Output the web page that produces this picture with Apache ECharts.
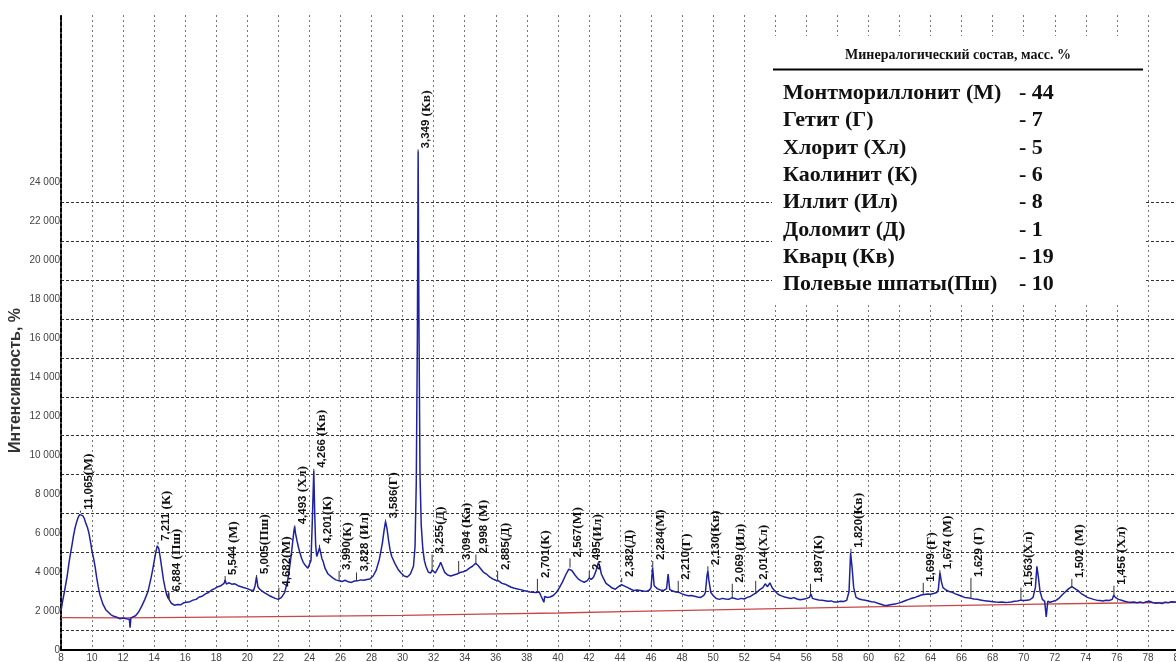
<!DOCTYPE html>
<html><head><meta charset="utf-8">
<script src="https://cdn.jsdelivr.net/npm/echarts@6/dist/echarts.min.js"></script>
<style>html,body{margin:0;padding:0;background:#fff}#c{width:1176px;height:662px}</style>
</head><body><div id="c"></div>
<script>
// ---- data ----
const twoTheta = [
 8.0,8.1,8.2,8.3,8.4,8.5,8.6,8.7,8.8,8.9,9.0,9.1,9.2,9.25,9.3,9.4,9.5,9.6,9.7,9.8,9.9,10.0,10.1,10.2,10.3,10.4,10.5,10.6,10.7,10.8,10.9,11.0,11.2,11.4,11.6,11.8,12.0,12.2,12.3,12.4,12.45,12.5,12.6,12.8,13.0,13.2,13.4,13.6,13.8,13.9,14.0,14.1,14.2,14.25,14.3,14.4,14.5,14.6,14.7,14.8,14.9,14.93,14.96,15.1,15.3,15.5,15.7,15.9,16.1,16.3,16.5,16.7,16.9,17.1,17.3,17.5,17.7,17.9,18.1,18.3,18.5,18.57,18.65,18.8,19.0,19.2,19.4,19.6,19.8,20.0,20.2,20.4,20.5,20.59,20.68,20.8,21.0,21.2,21.4,21.6,21.8,22.0,22.03,22.1,22.2,22.3,22.4,22.5,22.6,22.7,22.8,22.9,23.0,23.05,23.1,23.2,23.3,23.4,23.5,23.6,23.7,23.8,23.9,24.0,24.1,24.18,24.28,24.34,24.4,24.47,24.55,24.65,24.72,24.8,24.9,25.0,25.1,25.2,25.3,25.5,25.7,25.9,26.1,26.3,26.5,26.7,26.9,27.1,27.3,27.5,27.7,27.9,28.1,28.3,28.5,28.7,28.8,28.9,29.0,29.1,29.2,29.3,29.5,29.7,29.9,30.1,30.3,30.5,30.7,30.8,30.88,30.95,31.0,31.05,31.12,31.2,31.3,31.4,31.5,31.65,31.8,31.9,32.0,32.1,32.2,32.35,32.45,32.55,32.7,32.9,33.1,33.3,33.5,33.7,33.9,34.1,34.3,34.5,34.7,34.85,35.0,35.2,35.4,35.6,35.8,36.0,36.2,36.4,36.6,36.8,37.0,37.2,37.4,37.6,37.8,38.0,38.2,38.4,38.6,38.8,38.9,39.0,39.1,39.15,39.3,39.5,39.7,39.9,40.1,40.3,40.5,40.7,40.8,40.9,41.1,41.3,41.5,41.7,41.9,42.02,42.15,42.3,42.45,42.6,42.7,42.8,42.95,43.1,43.3,43.5,43.7,43.9,44.1,44.2,44.3,44.5,44.7,44.9,45.1,45.3,45.5,45.7,45.9,46.0,46.1,46.2,46.4,46.6,46.8,47.0,47.1,47.2,47.4,47.6,47.8,48.0,48.2,48.4,48.6,48.8,49.0,49.2,49.4,49.5,49.6,49.66,49.72,49.85,50.0,50.2,50.4,50.6,50.8,51.0,51.2,51.4,51.6,51.8,52.0,52.2,52.4,52.6,52.8,53.0,53.2,53.35,53.5,53.65,53.8,54.0,54.2,54.4,54.6,54.8,55.0,55.2,55.4,55.6,55.8,56.0,56.2,56.3,56.4,56.6,56.8,57.0,57.2,57.4,57.6,57.8,58.0,58.2,58.4,58.6,58.75,58.85,58.95,59.05,59.2,59.4,59.6,59.8,60.0,60.2,60.4,60.6,60.8,61.0,61.2,61.4,61.6,61.8,62.0,62.2,62.4,62.6,62.8,63.0,63.2,63.4,63.6,63.8,64.0,64.2,64.4,64.5,64.6,64.7,64.8,65.0,65.2,65.4,65.6,65.8,66.0,66.2,66.4,66.6,66.8,67.0,67.2,67.4,67.6,67.8,68.0,68.2,68.4,68.6,68.8,69.0,69.2,69.4,69.6,69.8,70.0,70.2,70.4,70.6,70.75,70.85,70.95,71.05,71.2,71.35,71.45,71.55,71.7,71.9,72.1,72.3,72.5,72.7,72.9,73.1,73.3,73.5,73.7,73.9,74.1,74.3,74.5,74.7,74.9,75.1,75.3,75.5,75.7,75.8,75.9,76.1,76.3,76.5,76.7,76.9,77.1,77.3,77.5,77.7,77.9,78.1,78.3,78.5,78.7,78.9,79.1,79.3,79.5,79.8
];
const intensity = [
 2000,2500,2900,3350,3800,4400,4900,5350,5850,6250,6550,6800,6950,7050,6900,6900,6750,6500,6300,6000,5550,5050,4700,4250,3700,3250,2850,2600,2350,2200,2050,1980,1820,1730,1680,1600,1640,1600,1660,1580,1150,1650,1700,1760,1950,2250,2600,3000,3700,4100,4550,5000,5350,5420,5200,4700,4150,3600,3200,2850,2650,2950,2600,2400,2300,2340,2320,2420,2450,2480,2560,2600,2720,2760,2880,2950,3080,3150,3250,3300,3420,3600,3380,3450,3380,3400,3300,3250,3200,3150,3080,3050,3300,3750,3250,3120,3000,2900,2800,2720,2650,2600,2700,2620,2700,2800,2950,3250,3600,4100,4700,5400,6100,6350,6000,5600,5250,4950,4700,4500,4380,4300,4200,4300,4600,6500,9220,7000,5400,4800,4900,5250,5000,4700,4500,4200,4050,3900,3800,3700,3600,3550,3520,3580,3500,3470,3540,3550,3600,3580,3620,3650,3800,4100,4650,5500,6100,6600,6200,5600,5100,4800,4450,4150,3950,3800,3750,3900,4300,5300,8600,16000,25600,17000,9000,6400,5200,4600,4300,4000,3950,4100,4000,3950,4050,4300,4500,4400,4000,3850,3800,3850,3900,3980,4020,4080,4200,4300,4450,4350,4200,4000,3900,3750,3650,3580,3540,3420,3380,3300,3220,3170,3130,3100,3050,3020,2980,2960,2950,2980,2800,2750,2450,2750,2700,2720,2800,2950,3200,3500,3850,4150,4230,4080,3850,3650,3550,3480,3560,3700,3620,3750,4050,4480,4300,3900,3650,3420,3300,3180,3120,3250,3350,3450,3280,3200,3120,3050,3080,3060,3030,3010,3080,3200,4230,3300,3150,3080,3050,3150,3900,3100,3030,2980,2960,2880,2820,2790,2800,2760,2720,2700,2800,2950,3800,4060,3600,2950,2800,2640,2600,2650,2620,2600,2680,2640,2600,2650,2620,2700,2750,2850,2950,3100,3200,3400,3250,3450,3200,3000,2850,2780,2720,2680,2640,2690,2620,2580,2610,2640,2700,2880,2650,2600,2570,2560,2530,2500,2520,2460,2470,2500,2490,2550,3000,4990,4200,3200,2700,2620,2580,2550,2520,2480,2460,2400,2350,2300,2280,2320,2350,2380,2420,2480,2540,2600,2660,2700,2760,2820,2850,2880,2860,2900,2950,3100,3980,3500,3200,3080,3000,2960,2880,2820,2760,2700,2680,2650,2620,2600,2570,2540,2520,2500,2480,2460,2450,2470,2440,2450,2470,2500,2520,2560,2540,2560,2580,2700,3200,4300,3700,3000,2600,2500,1700,2500,2450,2500,2560,2680,2850,3000,3150,3250,3150,3050,2900,2800,2700,2650,2600,2560,2540,2520,2550,2540,2600,2820,2700,2600,2550,2500,2470,2450,2460,2430,2460,2420,2480,2500,2440,2400,2420,2380,2450,2420,2480,2460
];
const baseX = [8,12,16,20,25,30,35,40,45,50,55,60,65,70,75,80];
const baseY = [1660,1650,1670,1700,1740,1780,1840,1900,1980,2060,2140,2210,2280,2340,2400,2450];

const peakX    = [9.25,14.25,14.93,18.57,20.59,22.03,23.05,24.28,24.65,25.91,27.03,28.9,31.0,31.9,33.61,34.72,36.12,38.68,40.78,42.02,44.11,46.11,47.75,49.66,51.23,52.74,56.27,58.87,63.53,64.6,66.6,69.82,73.1,75.81];
const peakBase = [7050,5420,2600,3450,3700,2620,6350,9220,5200,3550,3550,6600,25600,4060,3980,4400,3550,2960,4230,3640,3470,4230,2960,4060,2710,2900,2880,4990,2880,3980,2620,2540,3210,2790];
const peakTop  = [7150,5550,2950,3800,3850,3200,6400,9300,5400,4060,3980,6700,25700,4900,4570,4900,4060,3650,4700,4060,3700,4570,3550,4300,3400,3550,3400,5200,3450,4100,3700,3200,3650,3300];
const peakText = ['11,065(М)','7,211 (К)','6,884 (Пш)','5,544 (М)','5,005(Пш)','4,682(М)','4,493 (Хл)','4,266 (Кв)','4,201(К)','3,990(К)','3,828 (Ил)','3,586(Г)','3,349 (Кв)','3,255(Д)','3,094 (Ка)','2,998 (М)','2,885(Д)','2,701(К)','2,567(М)','2,495(Ил)','2,382(Д)','2,284(М)','2,210(Г)','2,130(Кв)','2,069 (Ил)','2,014(Хл)','1,897(К)','1,820(Кв)','1,699 (Г)','1,674 (М)','1,629 (Г)','1,563(Хл)','1,502 (М)','1,456 (Хл)'];

const yTickValues = [0,2000,4000,6000,8000,10000,12000,14000,16000,18000,20000,22000,24000];
const yTickLabels = ['0','2 000','4 000','6 000','8 000','10 000','12 000','14 000','16 000','18 000','20 000','22 000','24 000'];

const tableTitle = 'Минералогический состав, масс. %';
const mineralNames  = ['Монтмориллонит (М)','Гетит (Г)','Хлорит (Хл)','Каолинит (К)','Иллит (Ил)','Доломит (Д)','Кварц (Кв)','Полевые шпаты(Пш)'];
const mineralValues = ['- 44','- 7','- 5','- 6','- 8','- 1','- 19','- 10'];

// ---- chart ----
const chart = echarts.init(document.getElementById('c'));
const splitColors = [];
for (let i = 0; i < 34; i++) splitColors.push((i % 2 === 1 && i <= 23) ? '#333' : 'rgba(0,0,0,0)');

const graphic = [
  {type:'rect', shape:{x:772,y:36,width:374,height:266}, style:{fill:'#fff'}, z:100},
  {type:'text', x:958, y:55, style:{text:tableTitle, font:'bold 14px "Liberation Serif", serif', fill:'#111', align:'center', verticalAlign:'middle'}, z:101},
  {type:'line', shape:{x1:773,y1:69.5,x2:1143,y2:69.5}, style:{stroke:'#000', lineWidth:2}, z:101}
];
mineralNames.forEach((n,i)=>{
  const y = 93.5 + i*27.3;
  graphic.push({type:'text', x:783, y:y, style:{text:n, font:'bold 22px "Liberation Serif", serif', fill:'#111', align:'left', verticalAlign:'middle'}, z:101});
  graphic.push({type:'text', x:1019, y:y, style:{text:mineralValues[i], font:'bold 22px "Liberation Serif", serif', fill:'#111', align:'left', verticalAlign:'middle'}, z:101});
});

function richText(t){
  const k = t.indexOf('(');
  return '{a|' + t.slice(0,k) + '}{b|' + t.slice(k) + '}';
}

chart.setOption({
  animation:false,
  backgroundColor:'#fff',
  grid:{left:61,right:-3,top:15,bottom:12,containLabel:false,outerBoundsMode:'none'},
  xAxis:{type:'value',min:8,max:80,interval:2,
    axisLine:{show:true,lineStyle:{color:'#000',width:2}},
    axisTick:{show:false},
    axisLabel:{fontSize:10,color:'#444',margin:3,fontFamily:'Liberation Sans'},
    splitLine:{show:true,lineStyle:{color:'#777',type:[2,3],width:1}}},
  yAxis:{type:'value',min:0,max:32600,interval:1000,
    name:'Интенсивность, %',nameLocation:'middle',nameGap:37,nameMoveOverlap:false,
    nameTextStyle:{fontSize:16,fontWeight:'bold',color:'#333',fontFamily:'Liberation Sans',padding:[0,96,0,0]},
    axisLine:{show:true,lineStyle:{color:'#000',width:2,type:[4,2]}},
    axisTick:{show:false},
    axisLabel:{interval:0,fontSize:10,color:'#444',margin:1,fontFamily:'Liberation Sans',
      formatter:function(v){const k=yTickValues.indexOf(v);return k>=0?yTickLabels[k]:'';}},
    splitLine:{show:true,lineStyle:{color:splitColors,type:[3,2],width:1.2}}},
  series:[
    {type:'line',data:baseX.map((x,i)=>[x,baseY[i]]),symbol:'none',silent:true,
      lineStyle:{color:'#c84848',width:1.3},z:2},
    {type:'line',data:twoTheta.map((x,i)=>[x,intensity[i]]),symbol:'none',silent:true,
      lineStyle:{color:'#1e22a0',width:1.5},z:3},
    {type:'custom',silent:true,z:4,
      data:peakX.map((x,i)=>[x,peakBase[i],peakTop[i]]),
      renderItem:function(params,api){
        const x=api.value(0), b=api.value(1), t=api.value(2);
        const p0=api.coord([x,b]), p1=api.coord([x,t]);
        return {type:'group',children:[
          {type:'line',shape:{x1:p0[0],y1:p0[1],x2:p1[0],y2:p1[1]},style:{stroke:'#333',lineWidth:1}},
          {type:'text',x:p1[0]+1,y:p1[1]-1,rotation:Math.PI/2,
            style:{text:richText(peakText[params.dataIndex]),align:'left',verticalAlign:'top',fill:'#111',
              rich:{a:{font:'bold 11.5px "Liberation Sans", sans-serif',fill:'#111'},
                    b:{font:'bold 13.5px "Liberation Serif", serif',fill:'#111'}}}}
        ]};
      }}
  ],
  graphic:graphic
});
</script></body></html>
